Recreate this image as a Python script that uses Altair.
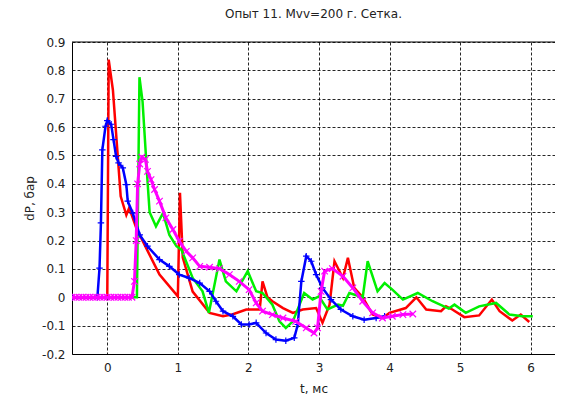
import altair as alt
import pandas as pd

# ---- data ----
red_t = [-0.5, 0.0, 0.02, 0.08, 0.19, 0.27, 0.31, 0.41, 0.55, 0.74, 1.0, 1.03, 1.07, 1.21, 1.45,
         1.64, 1.78, 1.97, 2.16, 2.2, 2.27, 2.34, 2.49, 2.63, 2.77, 2.96, 3.05, 3.15, 3.22, 3.34,
         3.41, 3.5, 3.62, 3.76, 3.9, 4.0, 4.23, 4.38, 4.52, 4.73, 4.8, 4.89, 5.06, 5.27, 5.45,
         5.56, 5.74, 5.86, 5.98]
red_p = [0, 0, 0.838, 0.73, 0.356, 0.29, 0.315, 0.245, 0.174, 0.08, 0.003, 0.368, 0.14, 0.02, -0.055,
         -0.067, -0.06, -0.043, -0.043, 0.056, 0.0, -0.014, -0.038, -0.055, -0.043, -0.038, -0.09, -0.026, 0.127, 0.068,
         0.139, 0.033, 0.0, -0.061, -0.073, -0.055, -0.038, 0.0, -0.043, -0.049, -0.032, -0.043, -0.07, -0.064, -0.008,
         -0.049, -0.082, -0.061, -0.087]

green_t = [-0.5, 0.42, 0.456, 0.50, 0.57, 0.6, 0.69, 0.79, 0.88, 0.98, 1.05, 1.21, 1.35, 1.44, 1.52,
           1.59, 1.68, 1.83, 1.99, 2.11, 2.2, 2.34, 2.44, 2.53, 2.63, 2.79, 2.91, 3.0, 3.12, 3.27,
           3.34, 3.43, 3.62, 3.69, 3.83, 3.93, 4.04, 4.19, 4.4, 4.61, 4.84, 4.92, 5.08, 5.27, 5.51,
           5.7, 5.88, 6.03]
green_p = [0, 0, 0.776, 0.69, 0.41, 0.30, 0.25, 0.297, 0.22, 0.18, 0.168, 0.068, 0.021, -0.055, 0.045,
           0.133, 0.056, 0.021, 0.092, 0.021, 0.015, -0.026, -0.085, -0.108, -0.085, 0.015, -0.008, 0.0035, -0.043, -0.026,
           -0.03, 0.015, 0.0, 0.127, 0.021, 0.05, 0.027, -0.008, 0.015, -0.014, -0.04, -0.026, -0.055, -0.032, -0.02,
           -0.061, -0.067, -0.067]

blue_t = [-0.5, -0.14, -0.11, -0.09, -0.07, -0.025, 0.0, 0.055, 0.088, 0.125, 0.16, 0.22, 0.27, 0.29, 0.36,
          0.46, 0.57, 0.74, 0.88, 1.02, 1.16, 1.31, 1.45, 1.54, 1.64, 1.78, 1.9, 2.01, 2.11, 2.25,
          2.39, 2.53, 2.65, 2.7, 2.75, 2.82, 2.89, 2.96, 3.05, 3.17, 3.31, 3.48, 3.64, 3.81, 3.93]
blue_p = [0, 0, 0.103, 0.262, 0.52, 0.603, 0.623, 0.61, 0.556, 0.497, 0.474, 0.456, 0.397, 0.339, 0.297,
          0.22, 0.18, 0.133, 0.109, 0.08, 0.068, 0.05, 0.021, -0.014, -0.049, -0.067, -0.096, -0.096, -0.09, -0.126,
          -0.149, -0.153, -0.143, -0.096, 0.056, 0.145, 0.127, 0.08, 0.033, -0.008, -0.043, -0.067, -0.079, -0.073, -0.067]

mag_t = [-0.5, -0.45, -0.4, -0.35, -0.3, -0.25, -0.2, -0.15, -0.1, -0.05, 0.0, 0.05, 0.1, 0.15, 0.2,
         0.25, 0.3, 0.35, 0.385, 0.41, 0.43, 0.46, 0.49, 0.54, 0.57, 0.62, 0.67, 0.74, 0.83, 0.93,
         1.02, 1.12, 1.21, 1.31, 1.45, 1.59, 1.73, 1.87, 2.01, 2.11, 2.2, 2.34, 2.49, 2.67, 2.82,
         2.93, 2.98, 3.03, 3.08, 3.19, 3.34, 3.48, 3.62, 3.76, 3.9, 4.04, 4.19, 4.33]
mag_p = [0, 0, 0, 0, 0, 0, 0, 0, 0, 0, 0, 0, 0, 0, 0,
         0, 0, 0, 0.056, 0.2, 0.40, 0.47, 0.494, 0.486, 0.444, 0.415, 0.38, 0.339, 0.28, 0.239,
         0.198, 0.162, 0.139, 0.109, 0.106, 0.101, 0.08, 0.056, 0.027, -0.02, -0.049, -0.061, -0.073, -0.085, -0.108,
         -0.126, -0.108, 0.021, 0.092, 0.101, 0.074, 0.033, -0.014, -0.055, -0.073, -0.067, -0.061, -0.059]

x_ticks = [0, 1, 2, 3, 4, 5, 6]
y_ticks = [-0.2, -0.1, 0, 0.1, 0.2, 0.3, 0.4, 0.5, 0.6, 0.7, 0.8, 0.9]

W, H = 483, 312
FONT = "DejaVu Sans"

xs = alt.Scale(domain=[-0.5, 6.345], nice=False, zero=False)
ys = alt.Scale(domain=[-0.2, 0.9], nice=False, zero=False)

xaxis = alt.Axis(values=x_ticks, title="t, мс", grid=True, ticks=False, labelPadding=8,
                 titlePadding=10, labelExpr="toString(datum.value)")
yaxis = alt.Axis(values=y_ticks, title="dP, бар", grid=True, ticks=False, labelPadding=7,
                 titlePadding=5, labelExpr="toString(round(datum.value*10)/10)")


def frame(t, p):
    return pd.DataFrame({"t": t, "p": p})


def line(t, p, color, width=2.5):
    return alt.Chart(frame(t, p)).mark_line(color=color, strokeWidth=width, clip=True).encode(
        x=alt.X("t:Q", scale=xs, axis=xaxis),
        y=alt.Y("p:Q", scale=ys, axis=yaxis),
    )


def points(t, p, color, shape):
    return alt.Chart(frame(t, p)).mark_point(color=color, shape=shape, filled=False, size=42,
                                             strokeWidth=1.2, opacity=1, clip=True).encode(
        x=alt.X("t:Q", scale=xs, axis=xaxis),
        y=alt.Y("p:Q", scale=ys, axis=yaxis),
    )


PLUS = "M-1,0L1,0M0,-1L0,1"
CROSS = "M-1,-1L1,1M-1,1L1,-1"

top_border = alt.Chart(pd.DataFrame({"a": [0]})).mark_rule(color="black", strokeWidth=1).encode(
    x=alt.value(0), x2=alt.value(W), y=alt.value(0)
)

chart = alt.layer(
    line(red_t, red_p, "#ff0000"),
    line(green_t, green_p, "#00f000"),
    line(blue_t, blue_p, "#0000ff"),
    points(blue_t, blue_p, "#0000ff", PLUS),
    line(mag_t, mag_p, "#ff00ff", 3),
    points(mag_t, mag_p, "#ff00ff", CROSS),
    top_border,
).properties(
    width=W,
    height=H,
    autosize=alt.AutoSizeParams(type="none"),
    padding={"left": 64, "top": 34, "right": 0, "bottom": 42},
    title=alt.TitleParams("Опыт 11. Mvv=200 г. Сетка.", fontSize=12, fontWeight="normal",
                          font=FONT, color="#222", offset=15),
).configure_view(stroke=None).configure_axis(
    labelFont=FONT, labelFontSize=12, labelColor="#222",
    titleFont=FONT, titleFontSize=12, titleFontWeight="normal", titleColor="#222",
    domainColor="#000", domainWidth=1,
    gridColor="#000", gridDash=[3, 2], gridOpacity=0.85, gridWidth=1,
)

chart.save("out.html", embed_options={"renderer": "svg", "actions": False})
